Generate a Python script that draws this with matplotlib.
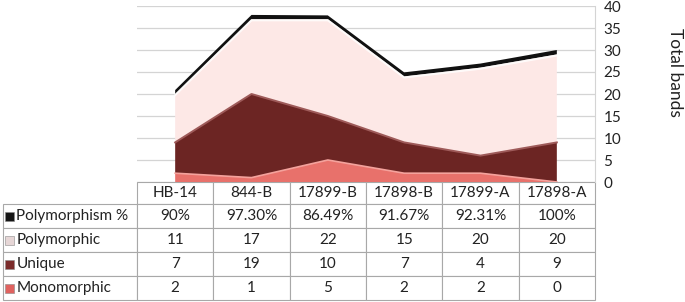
"""Stacked band counts per sample with data table underneath."""

import matplotlib

matplotlib.use("Agg")
import matplotlib.pyplot as plt
import numpy as np
from matplotlib.patches import Rectangle
from matplotlib.table import Table

samples = ["HB-14", "844-B", "17899-B", "17898-B", "17899-A", "17898-A"]
poly_pct = [90, 97.30, 86.49, 91.67, 92.31, 100]
poly_pct_labels = ["90%", "97.30%", "86.49%", "91.67%", "92.31%", "100%"]
polymorphic = [11, 17, 22, 15, 20, 20]
unique = [7, 19, 10, 7, 4, 9]
monomorphic = [2, 1, 5, 2, 2, 0]
row_labels = ["Polymorphism %", "Polymorphic", "Unique", "Monomorphic"]

COLORS = {
    "pct": "#111111",
    "poly": "#fde8e6",
    "unique": "#6c2523",
    "mono": "#e8716b",
    "grid": "#d4d4d4",
    "text": "#222222",
    "cell": "#a8a8a8",
}
MARKERS = ["#151515", "#e6d6d6", "#7a2b2a", "#e0625f"]

W, H = 685, 302
plt.rcParams["font.family"] = ["Lato", "DejaVu Sans"]

fig = plt.figure(figsize=(W / 100, H / 100), dpi=100)
L, R, B, T = 137, 595, 182, 6
ax = fig.add_axes([L / W, 1 - B / H, (R - L) / W, (B - T) / H])

x = np.arange(len(samples))
pct_frac = np.array(poly_pct) / 100
ax.stackplot(
    x, monomorphic, unique, polymorphic, pct_frac,
    colors=[COLORS["mono"], COLORS["unique"], COLORS["poly"], COLORS["pct"]],
    linewidth=0, zorder=2,
)
c1 = np.array(monomorphic)
c2 = c1 + np.array(unique)
c3 = c2 + np.array(polymorphic)
ax.plot(x, c1, color="#f4a29c", lw=1.2, zorder=3)
ax.plot(x, c2, color="#9e5a59", lw=1.4, zorder=3)
ax.plot(x, c3 - 0.25, color="white", lw=1.5, alpha=0.8, zorder=3)

ax.set_xlim(-0.5, 5.5)
ax.set_ylim(0, 40)
ax.set_xticks([])
ax.set_yticks(range(0, 41, 5))
ax.yaxis.tick_right()
ax.tick_params(axis="y", length=0, pad=6, labelsize=11, colors=COLORS["text"])
ax.yaxis.grid(True, color=COLORS["grid"], lw=0.9)
ax.set_axisbelow(True)
for side in ("top", "left", "bottom"):
    ax.spines[side].set_visible(False)
ax.spines["right"].set_color(COLORS["grid"])

fig.text(675 / W, 1 - 72 / H, "Total bands", rotation=270, ha="center", va="center",
         fontsize=12.5, color=COLORS["text"])

# data table under the plot (first column holds the series names)
cell_text = [
    poly_pct_labels,
    [str(v) for v in polymorphic],
    [str(v) for v in unique],
    [str(v) for v in monomorphic],
]
tbl_left, tbl_bottom = 3, 300
tbl = Table(ax, bbox=[(tbl_left - L) / (R - L), (B - tbl_bottom) / (B - T),
                      (R - tbl_left) / (R - L), (tbl_bottom - B) / (B - T)])
label_w, col_w = L - tbl_left, (R - L) / 6
rows = [[""] + samples] + [[lab] + vals for lab, vals in zip(row_labels, cell_text)]
for r, row in enumerate(rows):
    for c, txt in enumerate(row):
        cell = tbl.add_cell(r, c, width=label_w if c == 0 else col_w,
                            height=22 if r == 0 else 24, text=txt,
                            loc="left" if c == 0 else "center", facecolor="white",
                            edgecolor=COLORS["cell"])
        cell.set_linewidth(0.8)
        cell.get_text().set_fontsize(11)
        cell.get_text().set_color(COLORS["text"])
        if r == 0 and c == 0:
            cell.visible_edges = "open"
tbl.auto_set_font_size(False)
ax.add_table(tbl)

for i, col in enumerate(MARKERS):
    cy = 216 + 24 * i
    fig.add_artist(Rectangle((5 / W, 1 - (cy + 4.5) / H), 9 / W, 9 / H,
                             transform=fig.transFigure, facecolor=col,
                             edgecolor="#8a8a8a", lw=0.4))

fig.savefig("out.png", dpi=100, facecolor="white")
